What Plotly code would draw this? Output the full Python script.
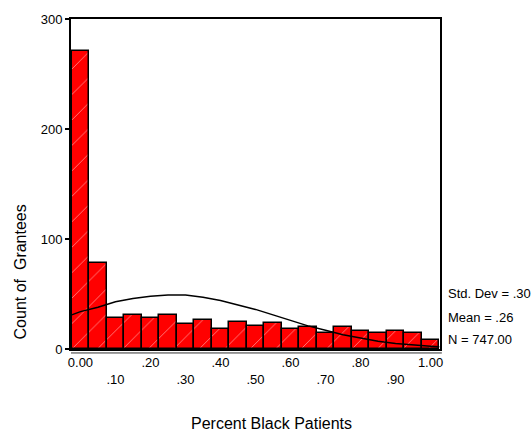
import plotly.graph_objects as go

# Histogram bins (centres) and counts
bin_centers = [0.00, 0.05, 0.10, 0.15, 0.20, 0.25, 0.30, 0.35, 0.40, 0.45, 0.50,
               0.55, 0.60, 0.65, 0.70, 0.75, 0.80, 0.85, 0.90, 0.95, 1.00]
counts = [271, 78, 28, 31, 28, 31, 23, 26, 18, 25, 21,
          24, 18, 20, 15, 20, 16, 15, 16, 15, 8]

# Normal curve overlay
curve_x = [-0.025, 0.00, 0.05, 0.10, 0.15, 0.20, 0.25, 0.30, 0.35, 0.40, 0.45, 0.50,
           0.55, 0.60, 0.65, 0.70, 0.75, 0.80, 0.85, 0.90, 0.95, 1.00, 1.025]
curve_y = [31, 34, 38, 43, 46, 48, 49, 49, 47, 44, 40, 36,
           31, 26, 21, 17, 13, 10, 7, 5, 3.5, 2.5, 2]

x_tickvals = [0.00, 0.10, 0.20, 0.30, 0.40, 0.50, 0.60, 0.70, 0.80, 0.90, 1.00]
x_ticktext = ["0.00", "<br>.10", ".20", "<br>.30", ".40", "<br>.50", ".60", "<br>.70",
              ".80", "<br>.90", "1.00"]
y_tickvals = [0, 100, 200, 300]

stats_lines = ["Std. Dev = .30", "Mean = .26", "N = 747.00"]

FONT = "Liberation Sans, Arial, sans-serif"

fig = go.Figure()
fig.add_trace(go.Bar(
    x=bin_centers, y=counts, width=0.05,
    marker=dict(color="#ff0000",
                line=dict(color="black", width=1.5),
                pattern=dict(shape="/", fgcolor="#ffa0a0", bgcolor="#ff0000",
                             size=18, solidity=0.04, fillmode="replace")),
    showlegend=False, hoverinfo="skip"))
fig.add_trace(go.Scatter(
    x=curve_x, y=curve_y, mode="lines",
    line=dict(color="black", width=1.5), showlegend=False, hoverinfo="skip"))

fig.update_layout(
    width=531, height=434,
    margin=dict(l=71, r=91, t=13, b=85),
    paper_bgcolor="white", plot_bgcolor="white",
    bargap=0,
    font=dict(family=FONT, size=13, color="black"),
    xaxis=dict(range=[-0.027, 1.027], tickvals=x_tickvals, ticktext=x_ticktext,
               showgrid=False, zeroline=False, showline=True, linecolor="black",
               linewidth=2, mirror=True, ticks="", tickfont=dict(size=13)),
    yaxis=dict(range=[0, 300], tickvals=y_tickvals, showgrid=False, zeroline=False,
               showline=True, linecolor="black", linewidth=2, mirror=True,
               ticks="outside", ticklen=4, tickwidth=2, tickcolor="black",
               tickfont=dict(size=13)),
)

# secondary thin line under the x axis
fig.add_shape(type="line", xref="paper", yref="paper", x0=0, x1=1.005,
              y0=-0.012, y1=-0.012, line=dict(color="#333333", width=1))

# axis titles
fig.add_annotation(text="Percent Black Patients", xref="paper", yref="paper",
                   x=0.5447, y=-0.226, xanchor="center", yanchor="middle",
                   showarrow=False, font=dict(size=16))
fig.add_annotation(text="Count of&nbsp; Grantees", xref="paper", yref="paper",
                   x=-0.1382, y=0.232, xanchor="center", yanchor="middle",
                   textangle=-90, showarrow=False, font=dict(size=16))

# statistics text
for txt, yp in zip(stats_lines, [0.1667, 0.0967, 0.0298]):
    fig.add_annotation(text=txt, xref="paper", yref="paper", x=1.0163, y=yp,
                       xanchor="left", yanchor="middle", showarrow=False,
                       font=dict(size=13))

fig.write_html("out.html", config={"displayModeBar": False},
               post_script="document.body.style.margin='0';document.body.style.overflow='hidden';")
